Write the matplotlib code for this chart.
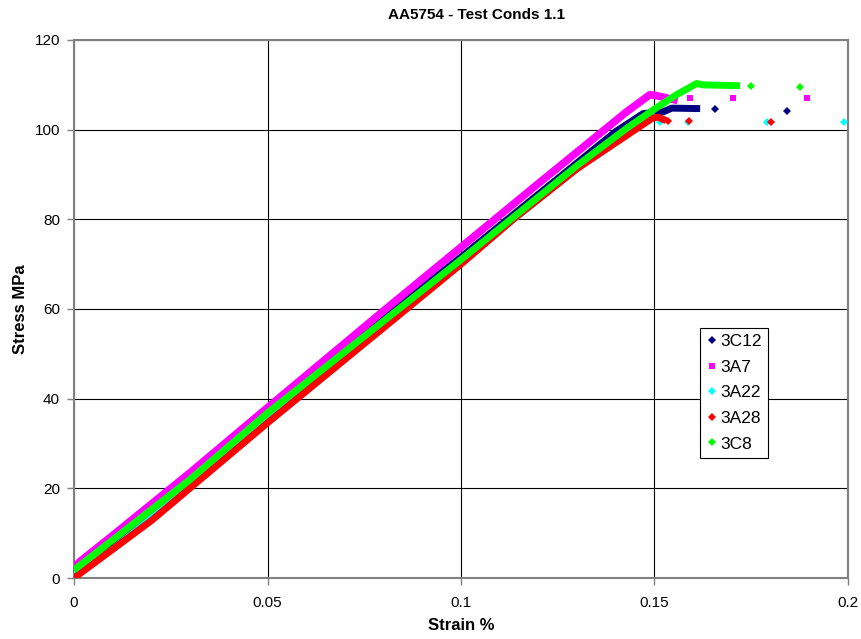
import matplotlib
matplotlib.use("Agg")
import matplotlib.pyplot as plt
from matplotlib.lines import Line2D

plt.rcParams["font.family"] = ["Liberation Sans", "DejaVu Sans"]

# ------------------------------------------------------------------ #
#  Data (strain %, stress MPa)                 #
# ------------------------------------------------------------------ #

series_names = ["3C12", "3A7", "3A22", "3A28", "3C8"]
series_colors = ["#000080", "#FF00FF", "#00FFFF", "#FF0000", "#00FF00"]
series_markers = ["D", "s", "D", "D", "D"]

# dense part of each curve (drawn as a thick band, as the markers overlap)
c12_strain = [0.0, 0.01, 0.03, 0.05, 0.10, 0.14, 0.1471, 0.1523, 0.1545, 0.1618]
c12_stress = [1.0, 7.8, 21.8, 37.4, 71.6, 99.6, 103.6, 104.0, 104.8, 104.7]

a7_strain = [0.0, 0.002, 0.01, 0.03, 0.05, 0.08, 0.10, 0.12, 0.1428, 0.1488, 0.1505, 0.156]
a7_stress = [2.5, 4.0, 9.5, 23.5, 38.0, 59.6, 73.8, 88.0, 104.0, 107.8, 107.6, 106.5]

a22_strain = [0.0, 0.01, 0.03, 0.05, 0.10, 0.14, 0.1505]
a22_stress = [0.5, 6.4, 20.2, 35.8, 70.6, 98.4, 103.0]

a28_strain = [0.0, 0.02, 0.05, 0.0859, 0.10, 0.1135, 0.13, 0.145, 0.1495, 0.151, 0.153]
a28_stress = [0.0, 12.8, 34.6, 60.0, 70.0, 80.0, 91.3, 100.0, 102.6, 102.8, 102.0]

c8_strain = [0.0, 0.01, 0.03, 0.05, 0.10, 0.13, 0.1428, 0.15, 0.1557, 0.1609, 0.1625, 0.1721]
c8_stress = [1.8, 8.5, 22.0, 36.8, 71.0, 92.0, 100.3, 104.6, 107.8, 110.3, 110.0, 109.8]

# sparse points after fracture
c12_tail_strain = [0.1657, 0.1843]
c12_tail_stress = [104.5, 104.2]
a7_tail_strain = [0.1592, 0.1704, 0.1895]
a7_tail_stress = [107.0, 107.1, 107.0]
a22_tail_strain = [0.1514, 0.1586, 0.1790, 0.1990]
a22_tail_stress = [101.6, 101.8, 101.8, 101.6]
a28_tail_strain = [0.1536, 0.1590, 0.1800]
a28_tail_stress = [101.9, 101.9, 101.6]
c8_tail_strain = [0.1749, 0.1876]
c8_tail_stress = [109.7, 109.6]

curves = [
    (c12_strain, c12_stress, c12_tail_strain, c12_tail_stress),
    (a7_strain, a7_stress, a7_tail_strain, a7_tail_stress),
    (a22_strain, a22_stress, a22_tail_strain, a22_tail_stress),
    (a28_strain, a28_stress, a28_tail_strain, a28_tail_stress),
    (c8_strain, c8_stress, c8_tail_strain, c8_tail_stress),
]

x_ticks = [0, 0.05, 0.1, 0.15, 0.2]
x_tick_labels = ["0", "0.05", "0.1", "0.15", "0.2"]
y_ticks = [0, 20, 40, 60, 80, 100, 120]


# ------------------------------------------------------------------ #
#  Plot                                                                #
# ------------------------------------------------------------------ #

fig = plt.figure(figsize=(8.62, 6.39), dpi=100)
ax = fig.add_axes([74 / 862, 61 / 639, 774 / 862, 538 / 639])

for i, (xs, ys, tx, ty) in enumerate(curves):
    col = series_colors[i]
    lw = 5.5 if series_markers[i] == "s" else 5.0
    ax.plot(xs, ys, color=col, lw=lw, solid_capstyle="butt",
            solid_joinstyle="round", zorder=2 + i)
    ax.plot(tx, ty, ls="none", marker=series_markers[i], color=col,
            ms=5 if series_markers[i] == "s" else 4.5, mew=0, zorder=2 + i)

ax.set_xlim(0, 0.2)
ax.set_ylim(0, 120)
ax.set_xticks(x_ticks)
ax.set_xticklabels(x_tick_labels)
ax.set_yticks(y_ticks)
ax.tick_params(axis="both", direction="out", length=5, width=1,
               color="#808080", labelsize=11, pad=5)
ax.tick_params(axis="x", pad=8)

ax.grid(True, color="black", lw=0.8, zorder=1)
ax.set_axisbelow(True)
for sp in ax.spines.values():
    sp.set_color("#808080")
    sp.set_linewidth(1.5)

ax.set_xlabel("Strain %", fontsize=12, fontweight="bold", labelpad=6)
ax.set_ylabel("Stress MPa", fontsize=12, fontweight="bold", labelpad=5)
fig.text(477 / 862, 1 - 15 / 639, "AA5754 - Test Conds 1.1", ha="center",
         va="center", fontsize=11, fontweight="bold")

handles = [
    Line2D([], [], ls="none", marker=series_markers[i], color=series_colors[i],
           ms=5 if series_markers[i] == "s" else 4.5, mew=0)
    for i in range(len(series_names))
]
leg = ax.legend(handles, series_names, loc="upper left",
                bbox_to_anchor=(700 / 862, 1 - 328 / 639),
                bbox_transform=fig.transFigure, borderaxespad=0,
                fontsize=12.5, frameon=True, fancybox=False, framealpha=1,
                edgecolor="black", handlelength=0.7, handletextpad=0.15,
                labelspacing=0.6, borderpad=0.35)
leg.get_frame().set_linewidth(0.8)

fig.savefig("out.png", dpi=100)
